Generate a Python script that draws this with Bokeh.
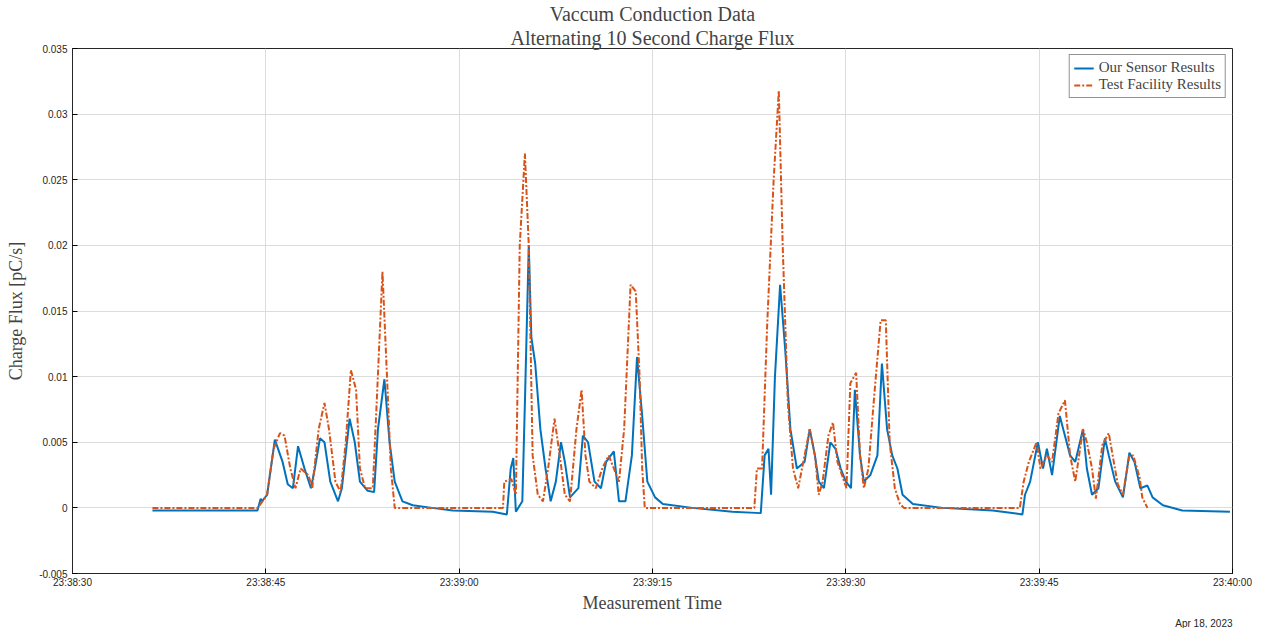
import pandas as pd
from bokeh.plotting import figure
from bokeh.models import (Title, DatetimeTickFormatter, FixedTicker,
                          CustomJSTickFormatter, Range1d)
from bokeh.embed import file_html
from bokeh.resources import INLINE

start = pd.Timestamp("2023-04-18 23:38:30")

# seconds after 23:38:30 and charge flux [pC/s]
sensor_t = [6.2, 14.35, 14.6, 14.7, 15.1, 15.7, 16.3, 16.7, 17.1, 17.5, 18.0, 18.5, 18.8,
            19.2, 19.55, 20.0, 20.6, 20.9, 21.5, 21.9, 22.3, 22.9, 23.4, 23.7, 24.2, 24.6,
            25.0, 25.6, 26.4, 27.9, 29.5, 32.6, 33.7, 34.0, 34.2, 34.4, 34.9, 35.1, 35.4,
            35.6, 35.9, 36.3, 36.7, 37.1, 37.5, 37.9, 38.2, 38.6, 39.25, 39.6, 40.0, 40.5,
            41.0, 41.4, 42.0, 42.4, 42.9, 43.4, 43.8, 44.2, 44.6, 45.2, 45.8, 48.1, 51.2,
            53.4, 53.7, 54.0, 54.2, 54.5, 54.9, 55.3, 55.7, 56.2, 56.8, 57.2, 57.6, 57.9,
            58.3, 58.8, 59.2, 59.6, 60.0, 60.4, 60.7, 61.1, 61.4, 61.9, 62.45, 62.8, 63.2,
            63.6, 64.0, 64.4, 65.2, 67.5, 71.4, 73.7, 73.9, 74.3, 74.9, 75.3, 75.6, 76.0,
            76.6, 77.0, 77.4, 77.8, 78.4, 78.7, 79.1, 79.6, 80.1, 80.4, 80.9, 81.5, 82.0,
            82.4, 82.85, 83.4, 83.8, 84.6, 86.1, 89.8]
sensor_v = [-0.0002, -0.0002, 0.0007, 0.0005, 0.001, 0.0052, 0.0035, 0.0018, 0.0015, 0.0047,
            0.003, 0.0015, 0.003, 0.0053, 0.005, 0.002, 0.0005, 0.0015, 0.0068, 0.005, 0.002,
            0.0013, 0.0012, 0.006, 0.0098, 0.005, 0.002, 0.0005, 0.0002, 0.0, -0.0002,
            -0.0003, -0.0005, 0.003, 0.0038, -0.0003, 0.0005, 0.008, 0.02, 0.013, 0.011,
            0.006, 0.003, 0.0005, 0.002, 0.005, 0.0035, 0.0008, 0.0015, 0.0055, 0.005, 0.002,
            0.0015, 0.0035, 0.0043, 0.0005, 0.0005, 0.004, 0.0115, 0.007, 0.002, 0.0008,
            0.0003, 0.0, -0.0003, -0.0004, 0.004, 0.0045, 0.001, 0.01, 0.017, 0.012, 0.006,
            0.003, 0.0035, 0.006, 0.004, 0.002, 0.0015, 0.005, 0.0045, 0.003, 0.002, 0.0015,
            0.009, 0.004, 0.002, 0.0025, 0.004, 0.011, 0.006, 0.004, 0.003, 0.001, 0.0003,
            0.0, -0.0002, -0.0005, 0.001, 0.002, 0.005, 0.003, 0.0045, 0.0025, 0.007, 0.0055,
            0.004, 0.0035, 0.006, 0.003, 0.001, 0.0015, 0.0053, 0.004, 0.002, 0.0008, 0.0042,
            0.0035, 0.0015, 0.0017, 0.0008, 0.0002, -0.0002, -0.0003]

facility_t = [6.2, 14.35, 14.6, 15.1, 15.6, 16.1, 16.45, 16.9, 17.3, 17.7, 18.3, 18.6, 19.1,
              19.55, 19.9, 20.4, 20.8, 21.2, 21.6, 22.0, 22.3, 22.7, 23.3, 23.6, 24.05, 24.4,
              24.7, 25.0, 33.4, 33.5, 34.05, 34.4, 34.7, 35.1, 35.4, 35.7, 36.1, 36.5, 36.9,
              37.4, 37.8, 38.2, 38.6, 39.1, 39.5, 39.8, 40.1, 40.6, 41.1, 41.6, 42.0, 42.4,
              42.8, 43.3, 43.7, 44.0, 44.2, 44.4, 52.9, 53.1, 53.5, 53.9, 54.4, 54.8, 55.1,
              55.5, 55.9, 56.3, 56.6, 57.2, 57.6, 57.9, 58.2, 58.65, 59.0, 59.35, 59.7, 60.05,
              60.35, 60.8, 61.1, 61.4, 61.75, 62.2, 62.7, 63.1, 63.4, 63.8, 64.2, 64.5, 73.5,
              73.8, 74.2, 74.8, 75.1, 75.6, 76.0, 76.5, 77.0, 77.4, 77.8, 78.4, 78.7, 79.1,
              79.4, 79.9, 80.4, 80.7, 81.1, 81.5, 82.0, 82.3, 82.8, 83.0, 83.4]
facility_v = [0.0, 0.0, 0.0003, 0.001, 0.0045, 0.0057, 0.0055, 0.003, 0.0015, 0.003, 0.0025,
              0.0015, 0.006, 0.008, 0.006, 0.002, 0.0012, 0.005, 0.0105, 0.009, 0.003, 0.0015,
              0.0015, 0.008, 0.018, 0.01, 0.003, 0.0, 0.0, 0.002, 0.0022, 0.001, 0.02, 0.027,
              0.02, 0.004, 0.001, 0.0005, 0.003, 0.0068, 0.004, 0.001, 0.0005, 0.006, 0.009,
              0.004, 0.002, 0.0015, 0.003, 0.004, 0.003, 0.002, 0.006, 0.017, 0.0165, 0.01,
              0.003, 0.0, 0.0, 0.003, 0.003, 0.014, 0.025, 0.0318, 0.02, 0.008, 0.003, 0.0015,
              0.003, 0.006, 0.004, 0.001, 0.002, 0.0055, 0.0065, 0.0035, 0.0025, 0.0015,
              0.0095, 0.0103, 0.004, 0.0015, 0.003, 0.0085, 0.0143, 0.0143, 0.005, 0.0015,
              0.0003, 0.0, 0.0, 0.002, 0.0035, 0.005, 0.003, 0.004, 0.0035, 0.0072, 0.0082,
              0.004, 0.002, 0.006, 0.005, 0.003, 0.0007, 0.0048, 0.0057, 0.004, 0.0018, 0.001,
              0.004, 0.004, 0.0023, 0.0008, 0.0]

y_ticks = [-0.005, 0, 0.005, 0.01, 0.015, 0.02, 0.025, 0.03, 0.035]
x_tick_s = [0, 15, 30, 45, 60, 75, 90]

sx = start + pd.to_timedelta(sensor_t, unit="s")
fx = start + pd.to_timedelta(facility_t, unit="s")
x_ticks = [(start + pd.Timedelta(seconds=s)).value // 10**6 for s in x_tick_s]

p = figure(width=1264, height=628, x_axis_type="datetime", output_backend="svg",
           toolbar_location=None, tools="",
           x_range=Range1d(start, start + pd.Timedelta(seconds=90)),
           y_range=Range1d(-0.005, 0.035),
           min_border_left=72, min_border_right=32, min_border_bottom=0, min_border_top=0)

p.title.text = "Vaccum Conduction Data"
p.title.align = "center"
p.title.text_font = "Liberation Serif"
p.title.text_font_size = "20px"
p.title.text_font_style = "normal"
p.title.standoff = 0
p.add_layout(Title(text="Alternating 10 Second Charge Flux", align="center",
                   text_font="Liberation Serif", text_font_size="20px",
                   text_font_style="normal", standoff=0), "above")

p.line(sx, sensor_v, line_color="#0072BD", line_width=2, legend_label="Our Sensor Results")
p.line(fx, facility_v, line_color="#D95319", line_width=2, line_dash="6 2 2 2",
       legend_label="Test Facility Results")

p.xaxis.ticker = FixedTicker(ticks=x_ticks)
p.xaxis.formatter = DatetimeTickFormatter(seconds="%H:%M:%S", minsec="%H:%M:%S",
                                          minutes="%H:%M:%S", hourmin="%H:%M:%S")
p.yaxis.ticker = FixedTicker(ticks=y_ticks)
p.yaxis.formatter = CustomJSTickFormatter(code="return String(Number(tick.toFixed(3)));")

p.xaxis.axis_label = "Measurement Time"
p.yaxis.axis_label = "Charge Flux [pC/s]"
for ax in (p.xaxis, p.yaxis):
    ax.axis_label_text_font = "Liberation Serif"
    ax.axis_label_text_font_size = "18px"
    ax.axis_label_text_font_style = "normal"
    ax.major_label_text_font = "Liberation Sans"
    ax.major_label_text_font_size = "10px"
    ax.major_label_text_color = "#262626"
    ax.minor_tick_line_color = None
    ax.major_tick_in = 5
    ax.major_tick_out = 0
    ax.axis_line_color = "#262626"
p.xaxis.axis_label_standoff = 2
p.xaxis.major_label_standoff = 3
p.yaxis.axis_label_standoff = 10

p.add_layout(Title(text="Apr 18, 2023", align="right", text_font="Liberation Sans",
                   text_font_size="10px", text_font_style="normal",
                   text_color="#262626", standoff=0), "below")

p.grid.grid_line_color = "#dcdcdc"
p.outline_line_color = "#262626"
p.outline_line_alpha = 1

p.legend.location = "top_right"
p.legend.label_text_font = "Liberation Serif"
p.legend.label_text_font_size = "15px"
p.legend.border_line_color = "#262626"
p.legend.spacing = 0
p.legend.padding = 4
p.legend.label_height = 14
p.legend.glyph_height = 14
p.legend.margin = 6

open("out.html", "w").write(file_html(p, INLINE))
